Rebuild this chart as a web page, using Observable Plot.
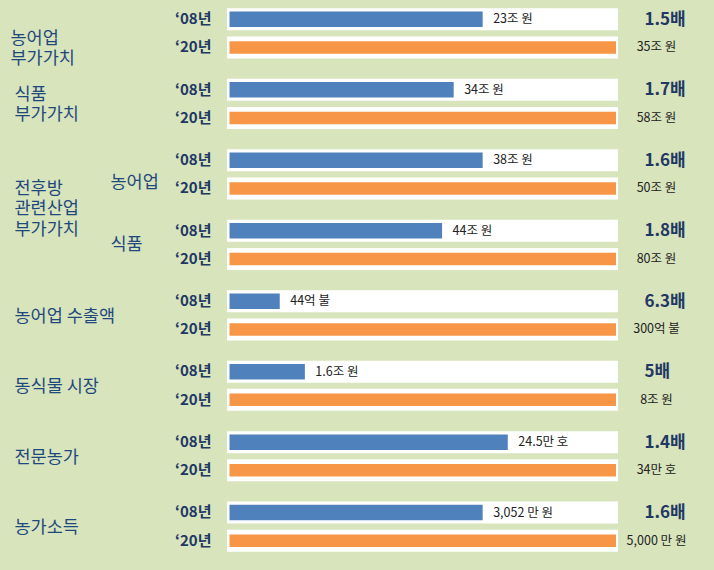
<!DOCTYPE html>
<html>
<head>
<meta charset="utf-8">
<script src="https://cdn.jsdelivr.net/npm/d3@7"></script>
<script src="https://cdn.jsdelivr.net/npm/@observablehq/plot@0.6"></script>
<style>
  html, body { margin: 0; padding: 0; background: #d8e4bc; }
  #chart { width: 714px; height: 570px; }
</style>
</head>
<body>
<div id="chart"></div>
<script>
// ---- data ----
const groups = ["농어업 부가가치", "식품 부가가치", "전후방 농어업", "전후방 식품", "농어업 수출액", "동식물 시장", "전문농가", "농가소득"];
const groupLabels = ["농어업\n부가가치", "식품\n부가가치", "", "", "농어업 수출액", "동식물 시장", "전문농가", "농가소득"];
const parentLabel = "전후방\n관련산업\n부가가치";
const subLabels = ["농어업", "식품"];
const years = ["‘08년", "‘20년"];
const labels08 = ["23조 원", "34조 원", "38조 원", "44조 원", "44억 불", "1.6조 원", "24.5만 호", "3,052 만 원"];
const labels20 = ["35조 원", "58조 원", "50조 원", "80조 원", "300억 불", "8조 원", "34만 호", "5,000 만 원"];
const multiples = ["1.5배", "1.7배", "1.6배", "1.8배", "6.3배", "5배", "1.4배", "1.6배"];
// bar length as % of the '20 bar (as drawn in the picture)
const bar08 = [65.5, 58, 65.5, 55, 13, 19.5, 72, 65.5];
const bar20 = [100, 100, 100, 100, 100, 100, 100, 100];

// ---- build table ----
const GAP = 2.5; // row slots per group
const rows = groups.flatMap((g, gi) => years.map((yr, i) => ({
  group: g,
  year: yr,
  yi: i,
  pos: gi * GAP + i,
  value: i === 0 ? bar08[gi] : bar20[gi],
  label: i === 0 ? labels08[gi] : labels20[gi],
  mult: multiples[gi]
})));
const rows08 = rows.filter(d => d.yi === 0);
const rows20 = rows.filter(d => d.yi === 1);
const cats = groupLabels.map((t, gi) => ({text: t, pos: gi * GAP + 0.5})).filter(d => d.text);
const parent = [{text: parentLabel, pos: (2 * GAP + 3 * GAP + 1) / 2}];
const subs = subLabels.map((t, k) => ({text: t, pos: (2 + k) * GAP + 0.5}));

const navy = "#1f3864";
const catColor = "#1f497d";
const font = "'Noto Sans CJK KR', sans-serif";
const catSize = 17.5;
const catLH = 20 / catSize;

const chart = Plot.plot({
  width: 714,
  height: 570,
  marginLeft: 227,
  marginRight: 96,
  marginTop: 18.8,
  marginBottom: 29.7,
  style: {background: "#d8e4bc", fontFamily: font},
  x: {domain: [0, 100], insetLeft: 2.5, insetRight: 2, axis: null},
  y: {domain: [0, 7 * GAP + 1], reverse: true, axis: null},
  marks: [
    // white panels behind each bar
    Plot.ruleY(rows, {y: "pos", stroke: "white", strokeWidth: 22}),
    // '08 bars
    Plot.ruleY(rows08, {y: "pos", x1: 0, x2: "value", stroke: "#4f81bd", strokeWidth: 15.5}),
    // '20 bars
    Plot.ruleY(rows20, {y: "pos", x1: 0, x2: "value", stroke: "#f79646", strokeWidth: 12.5}),
    // '08 value labels
    Plot.text(rows08, {x: "value", y: "pos", text: "label", textAnchor: "start", dx: 10, fontSize: 12.5, fill: "#222", fontFamily: font}),
    // '20 value labels (outside the panel)
    Plot.text(rows20, {y: "pos", text: "label", frameAnchor: "right", dx: 38, textAnchor: "middle", fontSize: 12.5, fill: "#222", fontFamily: font}),
    // growth multiples
    Plot.text(rows08, {y: "pos", text: "mult", frameAnchor: "right", dx: 26, textAnchor: "start", fontSize: 17, fontWeight: "bold", fill: navy, fontFamily: font}),
    // year labels
    Plot.text(rows, {y: "pos", text: "year", frameAnchor: "left", dx: -16, textAnchor: "end", fontSize: 15, fontWeight: "bold", fill: navy, fontFamily: font}),
    // category labels
    Plot.text(cats.slice(0, 1), {y: "pos", text: "text", frameAnchor: "left", dx: -217, dy: 14, textAnchor: "start", fontSize: catSize, lineHeight: catLH, fill: catColor, fontFamily: font}),
    Plot.text(cats.slice(1), {y: "pos", text: "text", frameAnchor: "left", dx: -213, textAnchor: "start", fontSize: catSize, lineHeight: catLH, fill: catColor, fontFamily: font}),
    Plot.text(parent, {y: "pos", text: "text", frameAnchor: "left", dx: -213, dy: -2, textAnchor: "start", fontSize: catSize, lineHeight: 20.5 / catSize, fill: catColor, fontFamily: font}),
    Plot.text(subs.slice(0, 1), {y: "pos", text: "text", frameAnchor: "left", dx: -117, dy: 8, textAnchor: "start", fontSize: catSize, fill: catColor, fontFamily: font}),
    Plot.text(subs.slice(1), {y: "pos", text: "text", frameAnchor: "left", dx: -117, textAnchor: "start", fontSize: catSize, fill: catColor, fontFamily: font})
  ]
});
document.getElementById("chart").appendChild(chart);
</script>
</body>
</html>
